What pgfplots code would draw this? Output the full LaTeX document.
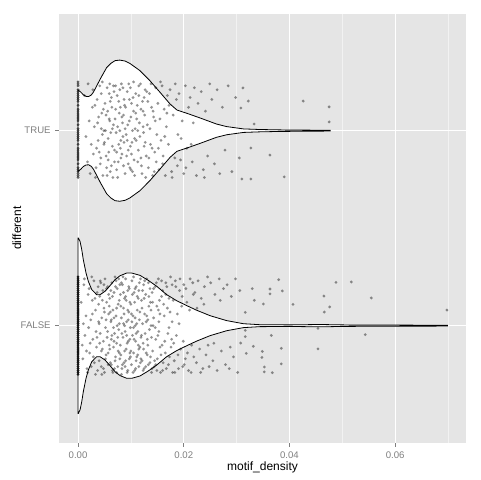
\documentclass[border=0pt]{standalone}
\usepackage{pgfplots}
\pgfplotsset{compat=1.18}
\usepackage{fontspec}
\setmainfont{Liberation Sans}
\definecolor{panelbg}{HTML}{E5E5E5}
\definecolor{minorgrid}{HTML}{F2F2F2}
\definecolor{ticklab}{HTML}{7F7F7F}
\begin{document}
\begin{tikzpicture}
\path[use as bounding box] (-44.5pt,-28pt) rectangle (315.5pt,332pt);
\begin{axis}[
  at={(0,0)}, anchor=south west,
  scale only axis, width=304.8pt, height=321.75pt,
  xmin=-0.00354, xmax=0.07334, ymin=0.4, ymax=2.6,
  scaled x ticks=false,
  axis background/.style={fill=panelbg},
  axis line style={draw=none},
  xtick={0,0.02,0.04,0.06}, xticklabels={0.00,0.02,0.04,0.06},
  minor xtick={0.01,0.03,0.05,0.07},
  ytick={1,2}, yticklabels={FALSE,TRUE},
  xmajorgrids, ymajorgrids, xminorgrids,
  major grid style={white, line width=0.8pt},
  minor grid style={minorgrid, line width=0.4pt},
  tick align=outside, tickpos=left,
  major tick length=3pt, minor tick length=0pt,
  tick style={ticklab, line width=0.5pt},
  ticklabel style={font=\fontsize{7.2}{8}\selectfont, text=ticklab},
  label style={font=\fontsize{9}{10}\selectfont},
  xlabel={motif\_density}, ylabel={different},
  xlabel style={at={(axis description cs:0.5,-0.0566)}, anchor=center},
  ylabel style={at={(axis description cs:-0.1048,0.5)}, anchor=center},
  clip=true,
  pts/.style={only marks, mark=*, mark size=1.15pt, mark options={fill=black, draw opacity=0, fill opacity=#1}},
]
% violin FALSE (centre 1)
\addplot[draw=black, fill=white, line width=0.6pt] coordinates {
(0,1.450)(0.00006,1.450)(0.00038,1.432)(0.0007,1.390)(0.0010,1.338)(0.00151,1.270)(0.00195,1.227)(0.00259,1.185)(0.00353,1.159)(0.00416,1.159)(0.0051,1.176)(0.00605,1.205)(0.0070,1.236)(0.00794,1.256)(0.00921,1.270)(0.01015,1.270)(0.01172,1.258)(0.0133,1.232)(0.01488,1.202)(0.01677,1.159)(0.01866,1.128)(0.02055,1.103)(0.02245,1.079)(0.0250,1.051)(0.0281,1.026)(0.0313,1.010)(0.0344,1.005)(0.0400,1.004)(0.0458,1.006)(0.0500,1.004)(0.0550,1.003)(0.0600,1.003)(0.0699,1.002)
(0.0699,0.998)(0.0600,0.997)(0.0550,0.997)(0.0500,0.996)(0.0458,0.994)(0.0400,0.996)(0.0344,0.995)(0.0313,0.990)(0.0281,0.974)(0.0250,0.949)(0.02245,0.921)(0.02055,0.897)(0.01866,0.872)(0.01677,0.841)(0.01488,0.798)(0.0133,0.768)(0.01172,0.742)(0.01015,0.730)(0.00921,0.730)(0.00794,0.744)(0.0070,0.764)(0.00605,0.795)(0.0051,0.824)(0.00416,0.841)(0.00353,0.841)(0.00259,0.815)(0.00195,0.773)(0.00151,0.730)(0.0010,0.662)(0.0007,0.610)(0.00038,0.568)(0.00006,0.550)(0,0.550)
} -- cycle;
% violin TRUE (centre 2)
\addplot[draw=black, fill=white, line width=0.6pt] coordinates {
(0,2.209)(0.0005,2.198)(0.0010,2.184)(0.0015,2.176)(0.0020,2.175)(0.0025,2.183)(0.0029,2.197)(0.0035,2.228)(0.0042,2.265)(0.0054,2.323)(0.0062,2.345)(0.0070,2.359)(0.0079,2.362)(0.0089,2.357)(0.0098,2.345)(0.0117,2.308)(0.0136,2.256)(0.0155,2.197)(0.0174,2.137)(0.0187,2.106)(0.0206,2.089)(0.0231,2.065)(0.0262,2.034)(0.0281,2.021)(0.0313,2.009)(0.0344,2.006)(0.0382,2.004)(0.0420,2.003)(0.0477,2.002)
(0.0477,1.998)(0.0420,1.997)(0.0382,1.996)(0.0344,1.994)(0.0313,1.991)(0.0281,1.979)(0.0262,1.966)(0.0231,1.935)(0.0206,1.911)(0.0187,1.894)(0.0174,1.863)(0.0155,1.803)(0.0136,1.744)(0.0117,1.692)(0.0098,1.655)(0.0089,1.643)(0.0079,1.638)(0.0070,1.641)(0.0062,1.655)(0.0054,1.677)(0.0042,1.735)(0.0035,1.772)(0.0029,1.803)(0.0025,1.817)(0.0020,1.825)(0.0015,1.824)(0.0010,1.816)(0.0005,1.802)(0,1.791)
} -- cycle;
% zero stacks
\addplot[pts=0.85] coordinates {
(0,0.75)(0,0.76)(0,0.77)(0,0.78)(0,0.79)(0,0.80)(0,0.81)(0,0.82)(0,0.83)(0,0.84)(0,0.85)(0,0.86)(0,0.87)(0,0.88)(0,0.89)(0,0.90)(0,0.91)(0,0.92)(0,0.93)(0,0.94)(0,0.95)(0,0.96)(0,0.97)(0,0.98)(0,0.99)(0,1.00)(0,1.01)(0,1.02)(0,1.03)(0,1.04)(0,1.05)(0,1.06)(0,1.07)(0,1.08)(0,1.09)(0,1.10)(0,1.11)(0,1.12)(0,1.13)(0,1.14)(0,1.15)(0,1.16)(0,1.17)(0,1.18)(0,1.19)(0,1.20)(0,1.21)(0,1.22)(0,1.23)(0,1.24)(0,1.25)
};
\addplot[pts=0.6] coordinates {
(0,1.76)(0,1.78)(0,1.80)(0,1.81)(0,1.83)(0,1.85)(0,1.86)(0,1.88)(0,1.90)(0,1.91)(0,1.93)(0,1.95)(0,1.96)(0,1.98)(0,2.00)(0,2.01)(0,2.03)(0,2.05)(0,2.06)(0,2.08)(0,2.10)(0,2.11)(0,2.13)(0,2.15)(0,2.16)(0,2.18)(0,2.20)(0,2.21)(0,2.23)(0,2.25)(0,1.77)(0,1.87)(0,1.97)(0,2.07)(0,2.17)(0,1.79)(0,1.89)(0,1.99)(0,2.09)(0,2.19)(0,2.24)
};
% TRUE jitter
\addplot[pts=0.42] coordinates {
(0.0012,2.18)(0.0018,1.84)(0.0021,2.05)(0.0025,1.93)(0.0028,2.21)(0.0015,1.97)(0.0023,1.78)(0.0027,2.12)(0.0019,2.24)(0.0029,1.88)
(0.0031,2.02)(0.0034,1.81)(0.0036,2.16)(0.0038,1.95)(0.0041,2.23)(0.0043,1.86)(0.0045,2.09)(0.0047,1.77)(0.0049,2.00)(0.0032,2.13)(0.0035,1.91)(0.0039,2.07)(0.0042,1.83)(0.0044,2.19)(0.0046,1.98)(0.0048,2.11)(0.0033,1.76)(0.0037,2.04)(0.0040,1.89)(0.0046,2.25)(0.0049,1.93)(0.0044,2.01)
(0.0051,2.14)(0.0053,1.87)(0.0055,2.22)(0.0057,1.96)(0.0059,2.06)(0.0061,1.79)(0.0063,2.17)(0.0065,1.92)(0.0067,2.03)(0.0069,1.84)(0.0052,2.00)(0.0054,1.81)(0.0056,2.10)(0.0058,1.89)(0.0060,2.24)(0.0062,1.99)(0.0064,2.12)(0.0066,1.76)(0.0068,2.20)(0.0050,1.94)(0.0053,2.08)(0.0057,1.85)(0.0061,2.15)(0.0065,2.01)(0.0069,1.90)(0.0055,1.77)(0.0059,2.19)(0.0063,1.82)(0.0067,2.23)(0.0060,2.05)
(0.0071,2.11)(0.0073,1.80)(0.0075,2.02)(0.0077,1.93)(0.0079,2.21)(0.0081,1.86)(0.0083,2.07)(0.0085,1.97)(0.0087,2.16)(0.0089,1.78)(0.0072,1.99)(0.0074,2.18)(0.0076,1.84)(0.0078,2.09)(0.0080,1.91)(0.0082,2.24)(0.0084,2.04)(0.0086,1.82)(0.0088,2.13)(0.0070,2.06)(0.0073,1.89)(0.0077,2.15)(0.0081,1.95)(0.0085,2.22)(0.0089,2.01)(0.0075,1.76)(0.0079,2.00)(0.0083,1.88)(0.0087,1.94)(0.0071,2.23)(0.0080,2.12)(0.0086,2.08)
(0.0091,1.98)(0.0093,2.20)(0.0095,1.83)(0.0097,2.05)(0.0099,1.92)(0.0101,2.14)(0.0103,1.79)(0.0105,2.10)(0.0107,1.96)(0.0109,2.19)(0.0092,1.87)(0.0094,2.03)(0.0096,2.24)(0.0098,1.81)(0.0100,2.07)(0.0102,1.94)(0.0104,2.17)(0.0106,1.85)(0.0108,2.01)(0.0090,2.12)(0.0095,1.90)(0.0099,2.22)(0.0103,2.00)(0.0107,1.77)(0.0097,2.16)(0.0101,1.88)(0.0105,2.25)(0.0093,1.95)(0.0109,2.09)(0.0100,1.80)
(0.0111,2.06)(0.0113,1.84)(0.0115,2.18)(0.0117,1.97)(0.0119,2.11)(0.0121,1.78)(0.0123,2.02)(0.0125,1.92)(0.0127,2.21)(0.0129,1.87)(0.0112,2.13)(0.0114,1.90)(0.0116,2.04)(0.0118,2.24)(0.0120,1.82)(0.0122,2.15)(0.0124,1.99)(0.0126,2.08)(0.0128,1.76)(0.0110,1.95)(0.0115,2.23)(0.0119,1.86)(0.0123,2.10)(0.0127,1.94)(0.0113,2.00)(0.0125,2.17)
(0.0131,2.03)(0.0133,1.81)(0.0135,2.19)(0.0137,1.93)(0.0139,2.12)(0.0141,1.77)(0.0143,2.07)(0.0145,1.89)(0.0147,2.22)(0.0149,1.98)(0.0132,2.15)(0.0134,1.86)(0.0136,2.01)(0.0138,2.24)(0.0140,1.91)(0.0142,2.10)(0.0144,1.79)(0.0146,2.05)(0.0148,1.84)(0.0130,2.20)
(0.0151,2.14)(0.0153,1.80)(0.0155,2.06)(0.0157,1.95)(0.0159,2.23)(0.0161,1.87)(0.0163,2.11)(0.0165,1.77)(0.0167,2.02)(0.0169,2.18)(0.0152,1.91)(0.0156,2.25)(0.0160,1.83)(0.0164,1.97)(0.0168,2.09)
(0.0171,1.93)(0.0174,2.21)(0.0177,1.79)(0.0180,2.08)(0.0183,1.86)(0.0186,2.16)(0.0189,1.98)(0.0172,2.13)(0.0178,1.76)(0.0184,2.24)(0.0188,1.82)
(0.0191,2.19)(0.0194,1.85)(0.0197,2.05)(0.0200,1.78)(0.0203,2.23)(0.0206,1.91)(0.0209,2.12)(0.0195,1.96)(0.0204,1.81)
(0.0212,2.17)(0.0216,1.84)(0.0220,2.22)(0.0224,1.77)(0.0218,2.04)(0.0227,2.14)(0.0214,1.93)
(0.0233,2.20)(0.0237,1.80)(0.0241,2.10)(0.0245,1.87)(0.0249,2.24)(0.0239,1.76)
(0.0253,2.16)(0.0258,1.83)(0.0263,2.21)(0.0268,1.78)(0.0273,2.12)(0.0278,1.90)
(0.0284,2.23)(0.0291,1.79)(0.0298,2.17)(0.0305,1.86)
(0.0312,2.219)(0.0322,2.152)(0.0308,2.116)(0.0310,1.752)(0.0327,1.752)(0.0333,2.034)(0.0327,1.911)(0.0363,1.875)(0.0390,1.763)(0.0426,2.152)(0.0475,2.122)(0.0475,2.045)
};
% FALSE jitter
\addplot[pts=0.42] coordinates {
(0.0006,1.12)(0.0009,0.83)(0.0011,1.21)(0.0013,0.95)(0.0015,1.05)(0.0017,0.78)(0.0019,1.16)(0.0008,0.90)(0.0012,1.24)(0.0016,0.87)(0.0010,1.01)(0.0018,0.76)
(0.0021,1.19)(0.0022,0.86)(0.0024,1.03)(0.0025,0.79)(0.0027,1.13)(0.0028,0.93)(0.0030,1.23)(0.0031,0.81)(0.0033,1.08)(0.0034,0.97)(0.0036,1.17)(0.0037,0.77)(0.0039,1.02)(0.0023,0.91)(0.0026,1.25)(0.0029,0.84)(0.0032,1.14)(0.0035,0.89)(0.0038,1.20)(0.0020,0.99)(0.0027,1.06)(0.0033,0.75)(0.0036,0.94)(0.0039,1.11)
(0.0040,0.82)(0.0041,1.15)(0.0042,0.96)(0.0043,1.22)(0.0044,0.79)(0.0045,1.04)(0.0046,0.88)(0.0047,1.18)(0.0048,0.92)(0.0049,1.09)(0.0050,0.76)(0.0051,1.24)(0.0052,0.99)(0.0053,0.85)(0.0054,1.12)(0.0055,0.94)(0.0056,1.20)(0.0057,0.80)(0.0058,1.06)(0.0059,0.90)
(0.0040,1.01)(0.0042,1.23)(0.0044,0.87)(0.0046,1.13)(0.0048,0.78)(0.0050,1.07)(0.0052,0.83)(0.0054,1.19)(0.0056,0.97)(0.0058,1.16)(0.0041,0.91)(0.0045,0.75)(0.0049,1.21)(0.0053,1.03)(0.0057,0.86)(0.0059,1.10)
(0.0060,1.14)(0.0061,0.81)(0.0062,1.02)(0.0063,0.93)(0.0064,1.22)(0.0065,0.77)(0.0066,1.08)(0.0067,0.89)(0.0068,1.17)(0.0069,0.96)(0.0070,1.25)(0.0071,0.84)(0.0072,1.05)(0.0073,0.91)(0.0074,1.19)(0.0075,0.79)(0.0076,1.11)(0.0077,0.98)(0.0078,0.86)(0.0079,1.21)
(0.0060,0.88)(0.0062,1.18)(0.0064,0.95)(0.0066,0.76)(0.0068,1.04)(0.0070,0.82)(0.0072,1.23)(0.0074,1.00)(0.0076,0.87)(0.0078,1.13)(0.0061,1.07)(0.0063,0.80)(0.0065,1.15)(0.0067,0.99)(0.0069,0.78)(0.0071,1.20)(0.0073,1.09)(0.0075,0.94)(0.0077,1.24)(0.0079,0.83)(0.0063,1.03)(0.0068,0.92)(0.0073,0.76)(0.0078,1.01)
(0.0080,1.16)(0.0081,0.85)(0.0082,1.04)(0.0083,0.78)(0.0084,1.21)(0.0085,0.94)(0.0086,1.09)(0.0087,0.81)(0.0088,1.14)(0.0089,0.97)(0.0090,1.24)(0.0091,0.88)(0.0092,1.02)(0.0093,0.76)(0.0094,1.18)(0.0095,0.92)(0.0096,1.07)(0.0097,0.83)(0.0098,1.12)(0.0099,0.99)
(0.0080,0.90)(0.0082,1.22)(0.0084,0.80)(0.0086,1.01)(0.0088,0.87)(0.0090,1.15)(0.0092,0.95)(0.0094,0.77)(0.0096,1.20)(0.0098,0.86)(0.0081,1.10)(0.0083,0.96)(0.0085,1.25)(0.0087,1.06)(0.0089,0.79)(0.0091,1.13)(0.0093,0.91)(0.0095,1.03)(0.0097,1.19)(0.0099,0.84)
(0.0082,0.75)(0.0086,1.17)(0.0090,0.82)(0.0094,1.08)(0.0098,0.93)(0.0088,1.00)
(0.0100,1.11)(0.0101,0.80)(0.0102,1.23)(0.0103,0.95)(0.0104,1.05)(0.0105,0.86)(0.0106,1.17)(0.0107,0.77)(0.0108,1.00)(0.0109,0.92)(0.0110,1.20)(0.0111,0.84)(0.0112,1.08)(0.0113,0.97)(0.0114,1.14)(0.0115,0.79)(0.0116,1.03)(0.0117,0.89)(0.0118,1.24)(0.0119,0.94)
(0.0100,0.87)(0.0102,1.02)(0.0104,0.76)(0.0106,0.93)(0.0108,1.19)(0.0110,0.82)(0.0112,1.15)(0.0114,0.90)(0.0116,1.22)(0.0118,0.81)(0.0101,1.06)(0.0103,1.16)(0.0105,0.99)(0.0107,1.12)(0.0109,0.78)(0.0111,1.01)(0.0113,0.85)(0.0115,1.18)(0.0117,1.07)(0.0119,0.83)(0.0105,1.25)(0.0110,0.96)(0.0115,0.88)(0.0108,1.04)
(0.0120,1.13)(0.0121,0.82)(0.0122,1.01)(0.0123,0.91)(0.0124,1.21)(0.0125,0.78)(0.0126,1.06)(0.0127,0.96)(0.0128,1.16)(0.0129,0.86)(0.0130,1.24)(0.0131,0.93)(0.0132,1.03)(0.0133,0.80)(0.0134,1.10)(0.0135,0.98)(0.0136,1.19)(0.0137,0.84)(0.0138,1.08)(0.0139,0.76)
(0.0120,0.95)(0.0122,1.18)(0.0124,0.88)(0.0126,1.23)(0.0128,0.79)(0.0130,1.05)(0.0132,0.90)(0.0134,1.15)(0.0136,0.81)(0.0138,1.00)(0.0121,1.09)(0.0125,1.14)(0.0129,1.02)(0.0133,1.22)(0.0137,1.12)(0.0123,0.77)(0.0131,0.85)(0.0139,0.94)
(0.0140,1.17)(0.0141,0.87)(0.0143,1.04)(0.0144,0.79)(0.0146,1.20)(0.0147,0.93)(0.0149,1.10)(0.0150,0.83)(0.0152,1.24)(0.0153,0.97)(0.0155,1.06)(0.0156,0.76)(0.0158,1.15)(0.0159,0.90)(0.0142,1.00)(0.0145,0.82)(0.0148,1.22)(0.0151,0.95)(0.0154,1.13)(0.0157,0.85)(0.0140,0.78)(0.0143,1.19)(0.0146,0.99)(0.0149,0.77)(0.0152,1.08)(0.0155,0.89)(0.0158,1.23)(0.0141,1.12)(0.0147,0.80)(0.0153,1.02)
(0.0160,1.18)(0.0161,0.81)(0.0163,1.05)(0.0164,0.92)(0.0166,1.22)(0.0167,0.78)(0.0169,1.09)(0.0170,0.96)(0.0172,1.14)(0.0173,0.84)(0.0175,1.25)(0.0176,0.89)(0.0178,1.02)(0.0179,0.76)(0.0162,1.11)(0.0165,0.86)(0.0168,1.20)(0.0171,0.80)(0.0174,1.07)(0.0177,0.93)(0.0160,0.77)(0.0166,1.16)(0.0172,0.99)(0.0178,1.21)
(0.0180,1.13)(0.0182,0.82)(0.0184,1.23)(0.0186,0.95)(0.0188,1.06)(0.0190,0.78)(0.0192,1.18)(0.0194,0.88)(0.0196,1.10)(0.0198,0.79)(0.0181,0.91)(0.0185,1.20)(0.0189,0.85)(0.0193,1.24)(0.0197,1.15)(0.0183,0.76)(0.0191,1.01)(0.0199,0.92)
(0.0200,1.21)(0.0203,0.83)(0.0206,1.12)(0.0209,0.77)(0.0212,1.24)(0.0215,0.90)(0.0218,1.16)(0.0201,0.80)(0.0204,1.19)(0.0207,0.86)(0.0211,1.08)(0.0214,0.76)(0.0217,1.22)(0.0219,0.84)
(0.0221,1.17)(0.0224,0.81)(0.0227,1.23)(0.0230,0.88)(0.0233,1.14)(0.0236,0.78)(0.0239,1.20)(0.0242,0.85)(0.0245,1.25)(0.0248,0.79)(0.0225,1.09)(0.0232,0.76)(0.0238,1.11)(0.0246,0.90)
(0.0251,1.22)(0.0255,0.82)(0.0259,1.16)(0.0263,0.77)(0.0267,1.24)(0.0271,0.87)(0.0275,1.19)(0.0279,0.80)(0.0257,0.91)(0.0269,1.13)
(0.0282,1.21)(0.0286,0.78)(0.0290,1.15)(0.0294,0.84)(0.0298,1.24)(0.0302,0.76)(0.0306,1.18)(0.0288,0.89)
(0.03296,1.190)(0.03334,1.130)(0.03505,1.111)(0.03164,1.068)(0.03631,1.188)(0.03631,1.163)(0.03795,1.236)(0.03864,1.178)(0.04066,1.109)(0.04652,1.152)(0.04658,1.070)(0.0476,1.096)(0.04879,1.222)(0.05169,1.224)(0.05547,1.142)(0.06978,1.080)
(0.03164,0.976)(0.03164,0.944)(0.03077,0.911)(0.03183,0.858)(0.03316,0.894)(0.03486,0.868)(0.03479,0.837)(0.03524,0.788)(0.03524,0.763)(0.03675,0.759)(0.03845,0.884)(0.03845,0.804)(0.03656,0.950)(0.04538,0.986)(0.04538,0.881)(0.05433,0.954)
};
\end{axis}
\end{tikzpicture}
\end{document}
